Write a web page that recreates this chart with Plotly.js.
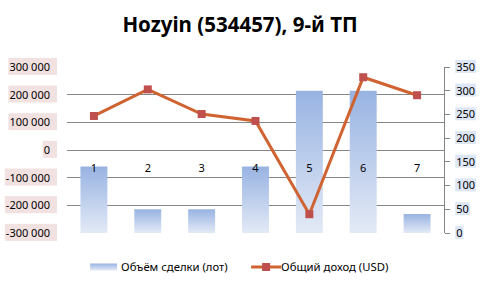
<!DOCTYPE html>
<html><head><meta charset="utf-8">
<script src="https://cdn.plot.ly/plotly-3.0.1.min.js"></script>
<style>body{margin:0;background:#fff}#c{width:480px;height:287px}</style>
</head><body><div id="c"></div>
<script>
const categories = ['1','2','3','4','5','6','7'];
const volumeLots = [140, 50, 50, 140, 300, 300, 40];
const totalIncomeUSD = [123000, 219000, 130000, 105000, -232000, 263000, 198000];
const leftTickVals = [-300000, -200000, -100000, 0, 100000, 200000, 300000];
const leftTickText = ['-300 000', '-200 000', '-100 000', '0', '100 000', '200 000', '300 000'];
const rightTickVals = [0, 50, 100, 150, 200, 250, 300, 350];

const fontFam = '"Noto Sans", "DejaVu Sans", sans-serif';
const traces = [
  {type:'bar', name:'Объём сделки (лот)', x:categories, y:volumeLots, yaxis:'y',
   marker:{color:'#b3c7ea', line:{width:0}}, width:0.5, hoverinfo:'skip'},
  {type:'scatter', mode:'lines+markers', name:'Общий доход (USD)', x:categories, y:totalIncomeUSD, yaxis:'y2',
   line:{color:'#cf6331', width:3}, marker:{symbol:'square', size:8, color:'#c0504d'}}
];
const layout = {
  width:480, height:287,
  margin:{l:67, r:36, t:67, b:54, autoexpand:false},
  paper_bgcolor:'#fff', plot_bgcolor:'rgba(0,0,0,0)',
  font:{family:fontFam, size:11, color:'#000'},
  title:{text:'<b>Hozyin (534457), 9-й ТП</b>', font:{family:fontFam, size:20.5, color:'#000'},
         x:0.5, xanchor:'center', y:0.912, yanchor:'middle'},
  showlegend:true,
  legend:{orientation:'h', xref:'container', x:0.169, xanchor:'left', yref:'container', y:0.07, yanchor:'middle',
          font:{size:11.3}, itemwidth:30, entrywidth:115, entrywidthmode:'pixels'},
  xaxis:{type:'category', anchor:'free', position:0.5, showline:false, ticks:'', showgrid:false,
         zeroline:false, tickfont:{size:11}, ticklabelstandoff:10},
  yaxis:{side:'right', range:[0,350], tickvals:rightTickVals, showgrid:false, zeroline:false,
         showline:true, linecolor:'#868686', linewidth:1, ticks:'outside', ticklen:5, tickcolor:'#868686',
         tickfont:{size:11}, ticklabelstandoff:4},
  yaxis2:{overlaying:'y', side:'left', range:[-300000,300000], tickvals:leftTickVals, ticktext:leftTickText,
          showgrid:true, gridcolor:'#868686', gridwidth:1, zeroline:false, showline:false, ticks:'',
          tickfont:{size:11}, ticklabelstandoff:16}
};
Plotly.newPlot('c', traces, layout, {displayModeBar:false, staticPlot:true}).then(function(gd){
  const svg = gd.querySelector('svg.main-svg');
  const ns = 'http://www.w3.org/2000/svg';
  const defs = svg.querySelector('defs');
  const lg = document.createElementNS(ns,'linearGradient');
  lg.setAttribute('id','barGrad'); lg.setAttribute('x1','0'); lg.setAttribute('y1','0');
  lg.setAttribute('x2','0'); lg.setAttribute('y2','1');
  [['0','#98b3e2'],['1','#e3eaf6']].forEach(function(s){
    const st = document.createElementNS(ns,'stop');
    st.setAttribute('offset',s[0]); st.setAttribute('stop-color',s[1]); lg.appendChild(st);
  });
  defs.appendChild(lg);
  gd.querySelectorAll('.barlayer .point path').forEach(function(p){ p.style.fill='url(#barGrad)'; });
  // legend swatches: wide bar swatch, line swatch nudged next to its text
  gd.querySelectorAll('.legend .traces').forEach(function(t, i){
    if (i === 0) {
      const p = t.querySelector('.legendpoints path');
      if (p) { p.setAttribute('d','M9,-3.5h27v7h-27z'); p.setAttribute('transform',''); p.style.fill='url(#barGrad)'; p.style.stroke='none'; }
    } else {
      t.querySelectorAll('.legendlines, .legendpoints').forEach(function(g){ g.setAttribute('transform','translate(5,0)'); });
    }
  });
  // tick label highlight boxes
  function boxes(sel, color, padL, padR, h){
    gd.querySelectorAll(sel).forEach(function(t){
      const b = t.getBBox();
      const r = document.createElementNS(ns,'rect');
      r.setAttribute('x', b.x - padL); r.setAttribute('y', b.y + b.height/2 - h/2);
      r.setAttribute('width', b.width + padL + padR); r.setAttribute('height', h);
      r.setAttribute('fill', color);
      const tr = t.getAttribute('transform'); if (tr) r.setAttribute('transform', tr);
      t.parentNode.insertBefore(r, t);
    });
  }
  boxes('.y2tick text', '#f2e1e1', 1, 7, 17);
  boxes('.ytick text', '#dde6f4', 1, 1, 13);
});
</script>
</body></html>
